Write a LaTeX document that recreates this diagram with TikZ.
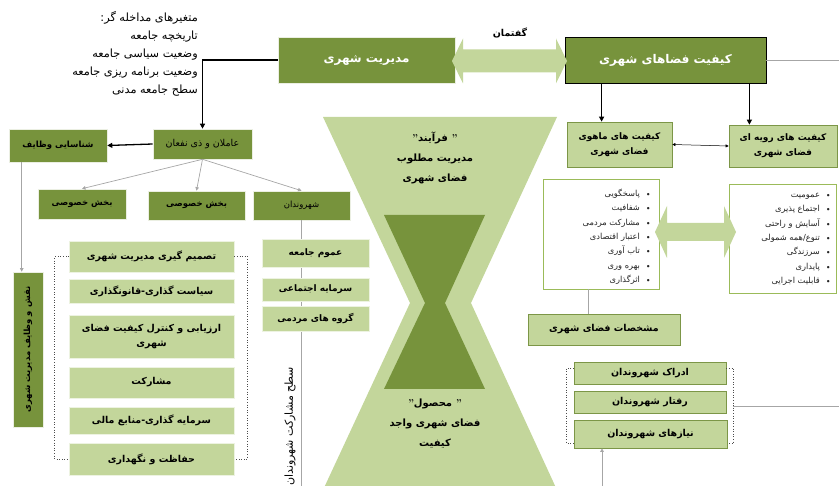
\documentclass[tikz,border=0pt]{standalone}
\usepackage{fontspec}
\usetikzlibrary{arrows.meta,calc}
\TeXXeTstate=1
\newfontfamily\arabicfont[Script=Arabic]{DejaVu Sans}
\newcommand\fatext[1]{{\arabicfont\beginR #1\endR}}
\definecolor{hgdark}{HTML}{77933C}
\definecolor{hglight}{HTML}{C3D69B}
\definecolor{hgleaf}{HTML}{9BBB59}
\definecolor{hgwire}{HTML}{A6A6A6}
\begin{document}
\begin{tikzpicture}[x=1pt,y=-1pt,
  darkbox/.style={fill=hgdark, draw=white!85!hgdark, line width=0.6pt, inner sep=1pt, align=center, text=black, font=\bfseries\fontsize{8.5}{11}\selectfont},
  titlebox/.style={darkbox, text=white, font=\bfseries\fontsize{12}{14}\selectfont},
  palebox/.style={fill=hglight, draw=white!70!hglight, line width=0.6pt, inner sep=1pt, align=center, font=\bfseries\fontsize{9.5}{15}\selectfont},
  framedbox/.style={palebox, draw=hgleaf!80!black, line width=0.7pt},
  listbox/.style={fill=white, draw=hgleaf, line width=0.7pt},
  listtext/.style={anchor=north east, inner sep=0pt, text=black!85, font=\fontsize{8.3}{14.4}\selectfont},
  hgtext/.style={align=center, inner sep=0pt, font=\bfseries\fontsize{10}{20}\selectfont},
  blkarrow/.style={draw=black, line width=1.3pt, -{Triangle[length=5pt,width=5pt]}},
  wirearrow/.style={draw=hgwire, line width=0.7pt, -{Triangle[length=3.5pt,width=3.5pt]}},
  wire/.style={draw=hgwire, line width=0.7pt},
  bracket/.style={draw=black!70, line width=0.6pt, dotted},
]
\useasboundingbox (0,0) rectangle (839,486);

% hourglass: light outer funnel and dark inner core
\fill[hglight] (323,117) -- (557,117) -- (471,303) -- (557,490) -- (323,490) -- (410,303) -- cycle;
\fill[hgdark] (384,215) -- (485,215) -- (445,303) -- (485,389) -- (384,389) -- (425,303) -- cycle;
\node[hgtext] (proc) at (435,158) {"\fatext{فرآیند} "\\\fatext{مدیریت مطلوب}\\\fatext{فضای شهری}};
\node[hgtext] (prod) at (435,424) {"\fatext{محصول} "\\\fatext{فضای شهری واجد}\\\fatext{کیفیت}};

% intervening variables
\node[anchor=north east, align=right, inner sep=0pt, font=\fontsize{11.3}{18}\selectfont] (vars) at (198,11)
  {\fatext{متغیرهای مداخله گر:}\\\fatext{تاریخچه جامعه}\\\fatext{وضعیت سیاسی جامعه}\\\fatext{وضعیت برنامه ریزی جامعه}\\\fatext{سطح جامعه مدنی}};

% top row
\node[titlebox, minimum width=177, minimum height=46] (mod) at (366.5,60) {\fatext{مدیریت شهری}};
\node[titlebox, draw=black, line width=0.8pt, minimum width=201, minimum height=46] (kf) at (665.5,60) {\fatext{کیفیت فضاهای شهری}};
\fill[hglight] (452,61) -- (463,38.5) -- (463,49.5) -- (556,49.5) -- (556,38.5) -- (567,61)
  -- (556,83.5) -- (556,72.5) -- (463,72.5) -- (463,83.5) -- cycle;
\node[font=\bfseries\fontsize{9.5}{11}\selectfont, inner sep=0pt] (disc) at (510,33) {\fatext{گفتمان}};

% quality branches
\node[framedbox, font=\bfseries\fontsize{9}{15}\selectfont, minimum width=105, minimum height=45] (mah) at (619.5,144.5) {\fatext{کیفیت های ماهوی}\\\fatext{فضای شهری}};
\node[framedbox, font=\bfseries\fontsize{9}{15}\selectfont, minimum width=108, minimum height=42] (rav) at (783,146) {\fatext{کیفیت های رویه ای}\\\fatext{فضای شهری}};
\draw[blkarrow] ($(kf.south west)+(37,0)$) coordinate (k1) -- (k1 |- mah.north);
\draw[blkarrow] ($(kf.south east)+(-17,0)$) coordinate (k2) -- (k2 |- rav.north);
\draw[draw=black, line width=0.5pt, {Triangle[length=3pt,width=3pt]}-{Triangle[length=3pt,width=3pt]}] (mah.east) -- (rav.west);
\coordinate (rimA) at (839,60);
\draw[wire] (kf.east) -- (rimA);

% attribute lists
\node[listbox, minimum width=116, minimum height=110] (l1) at (601,234) {};
\node[listtext] (l1t) at (652,186) {\begin{tabular}{@{}r@{\hspace{5pt}}c@{}}
  \fatext{پاسخگویی} & \textbullet\\ \fatext{شفافیت} & \textbullet\\ \fatext{مشارکت مردمی} & \textbullet\\
  \fatext{اعتبار اقتصادی} & \textbullet\\ \fatext{تاب آوری} & \textbullet\\ \fatext{بهره وری} & \textbullet\\
  \fatext{اثرگذاری} & \textbullet\end{tabular}};
\node[listbox, minimum width=107, minimum height=109] (l2) at (782.5,238.5) {};
\node[listtext] (l2t) at (832,187) {\begin{tabular}{@{}r@{\hspace{5pt}}c@{}}
  \fatext{عمومیت} & \textbullet\\ \fatext{اجتماع پذیری} & \textbullet\\ \fatext{آسایش و راحتی} & \textbullet\\
  \fatext{تنوع/همه شمولی} & \textbullet\\ \fatext{سرزندگی} & \textbullet\\ \fatext{پایداری} & \textbullet\\
  \fatext{قابلیت اجرایی} & \textbullet\end{tabular}};
\fill[hglight] (655,232) -- (667,206) -- (667,223) -- (724,223) -- (724,206) -- (736,232)
  -- (724,258) -- (724,241) -- (667,241) -- (667,258) -- cycle;
\node[framedbox, minimum width=152, minimum height=31] (msh) at (604,329.5) {\fatext{مشخصات فضای شهری}};
\draw[wire] ($(l1.south)+(-13,0)$) coordinate (l1b) -- (l1b |- msh.north);

% citizens block
\node[framedbox, minimum width=152, minimum height=22] (b1) at (650,373) {\fatext{ادراک شهروندان}};
\node[framedbox, minimum width=152, minimum height=22] (b2) at (650,402) {\fatext{رفتار شهروندان}};
\node[framedbox, minimum width=153, minimum height=28] (b3) at (650.5,434) {\fatext{نیازهای شهروندان}};
\draw[bracket] ($(b1.west)+(0,-5)$) -- ++(-7,0) |- ($(b3.west)+(0,9)$);
\draw[bracket] ($(b1.east)+(0,-5)$) -- ++(7,0) |- ($(b3.east)+(0,9)$);
\coordinate (bm) at ($(b2.east)+(7,4)$);
\coordinate (rimB) at (839,406);
\draw[wire] (bm) -- (rimB);
\coordinate (foot) at (602,486);
\draw[wirearrow] (foot) -- (foot |- b3.south);

% actors
\node[darkbox, font=\fontsize{9.5}{11}\selectfont, minimum width=99, minimum height=30] (aml) at (202.5,144) {\fatext{عاملان و ذی نفعان}};
\node[darkbox, minimum width=98, minimum height=33] (shen) at (58,145.5) {\fatext{شناسایی وظایف}};
\node[darkbox, minimum width=88, minimum height=30] (bk1) at (82,204) {\fatext{بخش خصوصی}};
\node[darkbox, minimum width=97, minimum height=29] (bk2) at (196.5,205.5) {\fatext{بخش خصوصی}};
\node[darkbox, font=\fontsize{8.5}{11}\selectfont, minimum width=97, minimum height=29] (shr) at (301.5,205.5) {\fatext{شهروندان}};
\draw[blkarrow] (mod.west) -| (aml.north);
\draw[blkarrow] (aml.west) -- (shen.east);
\draw[wirearrow] (aml.south) -- (bk1.north);
\draw[wirearrow] (aml.south) -- (bk2.north);
\draw[wirearrow] (aml.south) -- (shr.north);

% roles of urban management
\node[darkbox, rotate=90, minimum width=155, minimum height=30] (naq) at (28,349.5) {\fatext{نقش و وظایف مدیریت شهری}};
\draw[wirearrow] ($(shen.south west)+(13,0)$) coordinate (s1) -- (s1 |- naq.east);

\node[palebox, minimum width=165, minimum height=31] (t1) at (151.5,256.5) {\fatext{تصمیم گیری مدیریت شهری}};
\node[palebox, minimum width=165, minimum height=24] (t2) at (151.5,291) {\fatext{سیاست گذاری-قانونگذاری}};
\node[palebox, minimum width=165, minimum height=43] (t3) at (151.5,336.5) {\fatext{ارزیابی و کنترل کیفیت فضای}\\\fatext{شهری}};
\node[palebox, minimum width=165, minimum height=31] (t4) at (151.5,382.5) {\fatext{مشارکت}};
\node[palebox, minimum width=165, minimum height=27] (t5) at (151.5,420.5) {\fatext{سرمایه گذاری-منابع مالی}};
\node[palebox, minimum width=165, minimum height=32] (t6) at (151.5,459) {\fatext{حفاظت و نگهداری}};
\draw[bracket] (t1.west) -- ++(-14,0) |- (t6.west);
\draw[bracket] (t1.east) -- ++(13,0) |- (t6.east);

% citizen participation column
\coordinate (shrfoot) at (301.5,490);
\draw[wire] (shr.south) -- (shrfoot);
\node[palebox, font=\bfseries\fontsize{9}{11}\selectfont, minimum width=107, minimum height=28] (c1) at (315.5,253) {\fatext{عموم جامعه}};
\node[palebox, font=\bfseries\fontsize{9}{11}\selectfont, minimum width=107, minimum height=23] (c2) at (315.5,289.5) {\fatext{سرمایه اجتماعی}};
\node[palebox, font=\bfseries\fontsize{9}{11}\selectfont, minimum width=107, minimum height=25] (c3) at (315.5,318.5) {\fatext{گروه های مردمی}};
\node[rotate=90, anchor=east, inner sep=0pt, font=\fontsize{11}{13}\selectfont] (lvl) at (290,367) {\fatext{سطح مشارکت شهروندان}};
\end{tikzpicture}
\end{document}
